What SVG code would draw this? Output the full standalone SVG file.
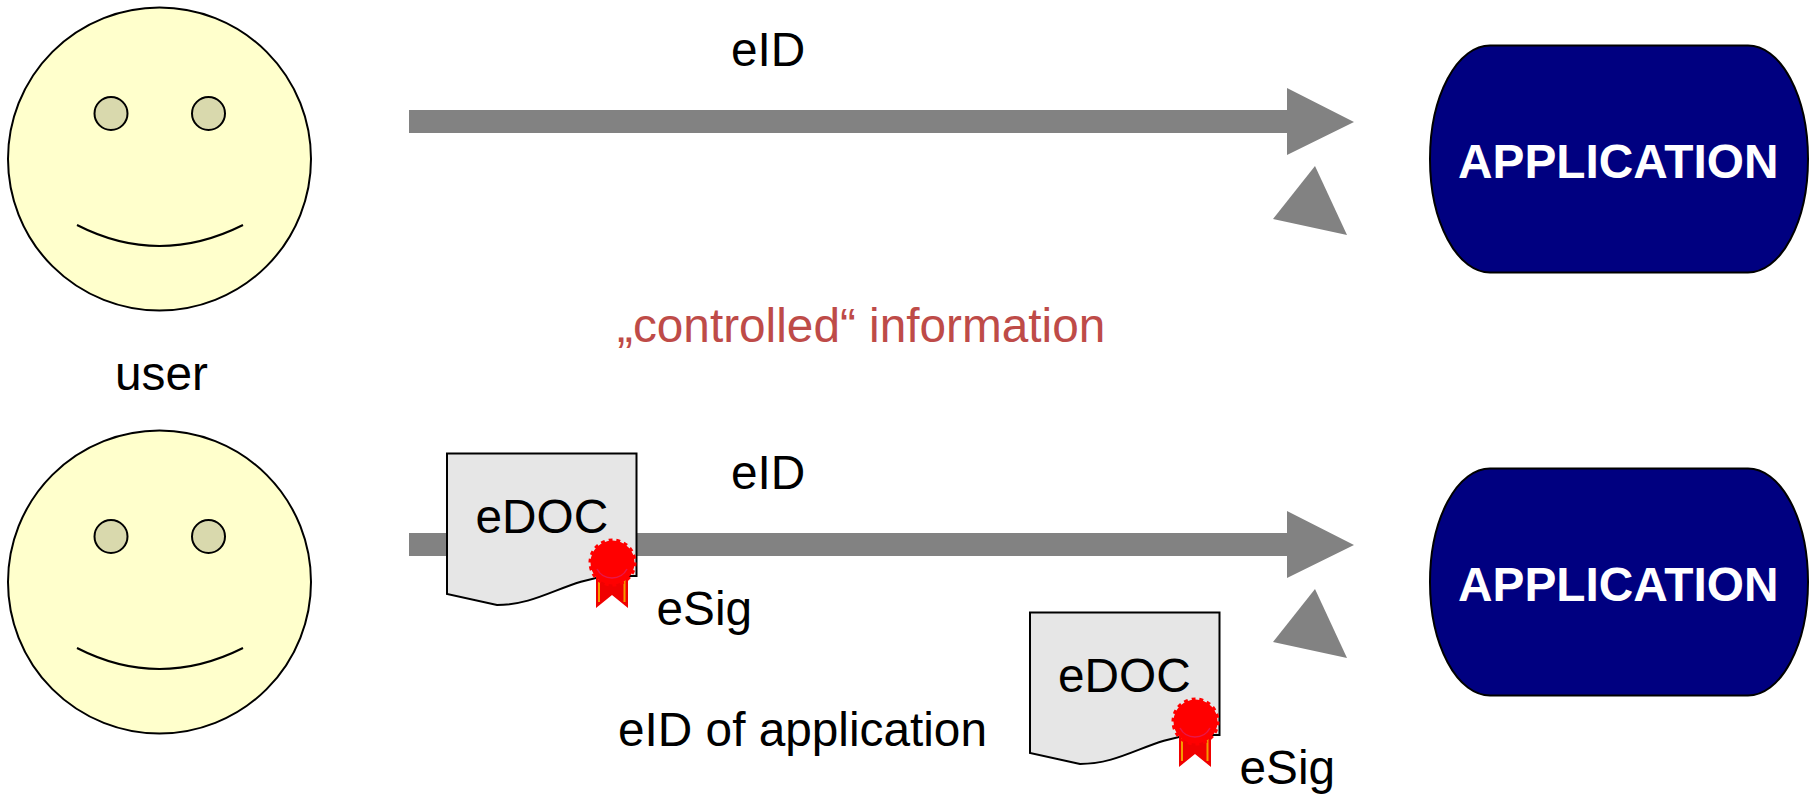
<svg xmlns="http://www.w3.org/2000/svg" width="1809" height="794" viewBox="0 0 1809 794">
<style>
text{font-family:"Liberation Sans",Arial,sans-serif;font-size:47.750px;fill:#000}
.app-t{font-weight:bold;fill:#fff;font-size:47.800px}
.red{fill:#be4b48}
.face{fill:#ffffcc;stroke:#000;stroke-width:2}
.eye{fill:#d9d9ad;stroke:#000;stroke-width:2}
.smile{fill:none;stroke:#000;stroke-width:2}
.app{fill:#000080;stroke:#000;stroke-width:2}
.doc{fill:#e6e6e6;stroke:#000;stroke-width:2}
.grey{fill:#828282}
</style>
<defs>
<g id="smiley">
<circle class="face" cx="159.500" cy="159" r="151.500"/>
<circle class="eye" cx="111" cy="113.500" r="16.500"/>
<circle class="eye" cx="208.500" cy="113.500" r="16.500"/>
<path class="smile" d="M77 225Q159 267 243 225"/>
</g>
<path id="appshape" class="app" d="M1490 45.500H1748A60 113.500 0 0 1 1748 272.500H1490A60 113.500 0 0 1 1490 45.500Z"/>
<g id="document">
<path class="doc" d="M447 453.500H636.500V576H610C565 580 540 605 497 605L447 594Z"/>
<polygon points="596,572 628,572 628,608 612,595 596,608" fill="#f00000"/>
<path d="M599 576V602M624.500 576V602" stroke="#f59a00" stroke-width="2" fill="none"/>
<circle cx="612.500" cy="562.500" r="22" fill="#ff0000" stroke="#ff0000" stroke-width="4" stroke-dasharray="1 1" pathLength="36"/>
<circle cx="612.500" cy="562.500" r="21.500" fill="#ff0000"/>
<path d="M597 569A17 17 0 0 0 627 569" fill="none" stroke="#e8174a" stroke-width="1.500"/>
</g>
</defs>
<g id="connectors">
<polygon class="grey" points="409,110 1287,110 1287,88 1354,122 1287,155 1287,133 409,133"/>
<polygon class="grey" points="409,533 1287,533 1287,511 1354,545 1287,578 1287,556 409,556"/>
<polygon class="grey" points="1315,166 1273,219 1347,235"/>
<polygon class="grey" points="1315,589 1273,642 1347,658"/>
</g>
<g id="user-top"><use href="#smiley"/></g>
<g id="user-bottom"><use href="#smiley" y="423"/></g>
<g id="application-top"><use href="#appshape"/><text class="app-t" x="1458" y="177.500">APPLICATION</text></g>
<g id="application-bottom"><use href="#appshape" y="423"/><text class="app-t" x="1458" y="600.500">APPLICATION</text></g>
<g id="edoc-left"><use href="#document"/><text x="475.500" y="533">eDOC</text></g>
<g id="edoc-right"><use href="#document" x="583" y="159"/><text x="1058" y="692">eDOC</text></g>
<g id="labels">
<text x="731" y="65.500">eID</text>
<text x="731" y="489">eID</text>
<text class="red" x="617" y="342">„controlled“ information</text>
<text x="115" y="390">user</text>
<text x="656.500" y="625">eSig</text>
<text x="1239.500" y="784">eSig</text>
<text x="618" y="746">eID of application</text>
</g>
</svg>
